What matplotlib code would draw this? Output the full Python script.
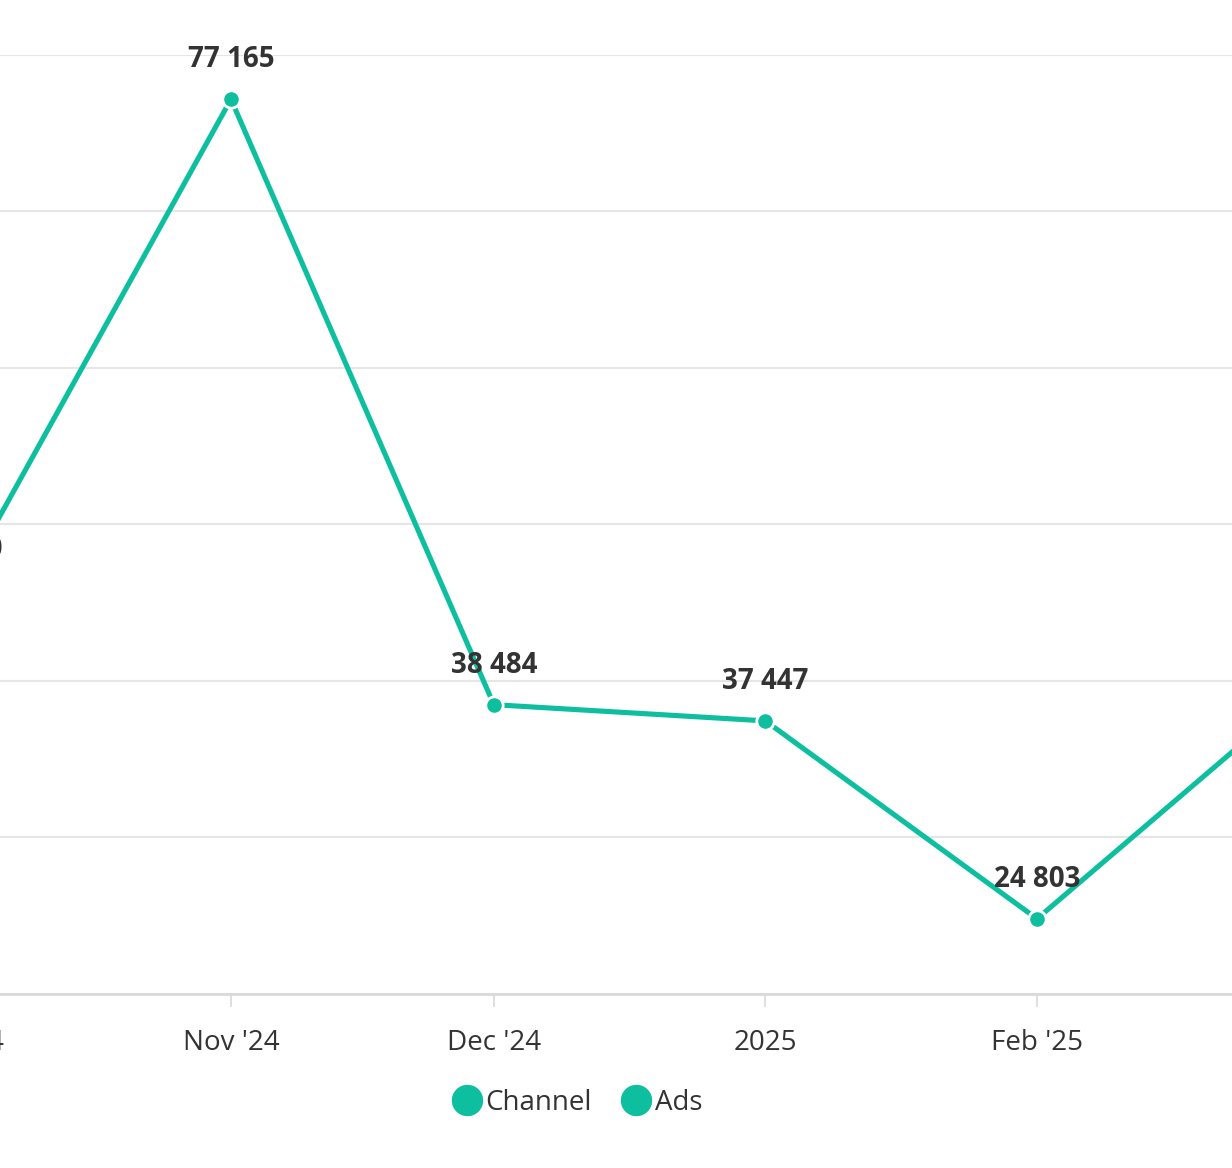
import matplotlib
matplotlib.use('Agg')
import matplotlib.pyplot as plt
import matplotlib.dates as mdates
from matplotlib.lines import Line2D
import datetime as dt

plt.rcParams['font.family'] = ['Open Sans', 'DejaVu Sans']

# data
months = [dt.date(2024, 10, 1), dt.date(2024, 11, 1), dt.date(2024, 12, 1),
          dt.date(2025, 1, 1), dt.date(2025, 2, 1), dt.date(2025, 3, 1)]
tick_labels = ["Oct '24", "Nov '24", "Dec '24", "2025", "Feb '25", "Mar '25"]
views = [45870, 77165, 38484, 37447, 24803, 38200]
series_names = ['Channel', 'Ads']

teal = '#0dbf9f'
txt = '#333333'

W = 1232
fig = plt.figure(figsize=(12.32, 11.68), dpi=100)
# the plot area is wider than the picture: it is cropped on both sides
left_px, right_px = -100, 1340
ax = fig.add_axes([left_px / W, 0.149, (right_px - left_px) / W, 0.804])

x = mdates.date2num(months)
ax.plot(x, views, color=teal, lw=3.7, solid_joinstyle='miter', zorder=3)
ax.plot(x, views, 'o', ms=12.5, color=teal, mec='white', mew=2, zorder=4)

for xi, v in zip(x, views):
    s = f'{v:,}'.replace(',', ' ')
    ax.annotate(s, (xi, v), xytext=(0, 28.5), textcoords='offset points',
                ha='center', va='center', fontsize=20, fontweight='bold',
                color=txt, zorder=5)

ax.set_yticks(range(20000, 80001, 10000))
ax.set_yticklabels([])
ax.tick_params(axis='y', length=0)
ax.grid(axis='y', color='#e6e6e6', lw=1.5)
ax.set_axisbelow(True)

ax.set_xticks(x)
ax.set_xticklabels(tick_labels)
ax.tick_params(axis='x', length=9.5, width=1.2, color='#d9d9d9',
               labelsize=20, labelcolor=txt, pad=16)

px_per_day = 8.761
ax.set_xlim(x[0] + (left_px + 40.6) / px_per_day,
            x[0] + (right_px + 40.6) / px_per_day)
ax.set_ylim(20000, 80000)

for side in ['left', 'right', 'top']:
    ax.spines[side].set_visible(False)
ax.spines['bottom'].set_color('#d9d9d9')
ax.spines['bottom'].set_linewidth(2)

handles = [Line2D([], [], ls='none', marker='o', ms=21.6, color=teal)
           for _ in series_names]
fig.legend(handles, series_names, loc='center', bbox_to_anchor=(0.469, 0.056),
           ncol=2, frameon=False, fontsize=20, labelcolor=txt,
           handletextpad=0.15, columnspacing=1.1, handlelength=1.0)

fig.savefig('out.png', dpi=100)
